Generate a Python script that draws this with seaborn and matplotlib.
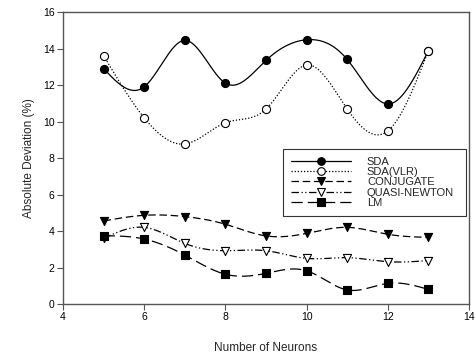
import numpy as np
import matplotlib
matplotlib.use("Agg")
import matplotlib.pyplot as plt
import seaborn as sns

neurons = [5, 6, 7, 8, 9, 10, 11, 12, 13]
sda = [12.9, 11.9, 14.45, 12.1, 13.35, 14.48, 13.4, 10.96, 13.88]
sda_vlr = [13.6, 10.2, 8.77, 9.93, 10.68, 13.1, 10.68, 9.48, 13.88]
conjugate = [4.55, 4.86, 4.79, 4.37, 3.73, 3.87, 4.2, 3.82, 3.65]
quasi_newton = [3.6, 4.2, 3.32, 2.92, 2.92, 2.5, 2.54, 2.32, 2.38]
lm = [3.74, 3.56, 2.68, 1.63, 1.68, 1.82, 0.77, 1.13, 0.8]

series_names = ["SDA", "SDA(VLR)", "CONJUGATE", "QUASI-NEWTON", "LM"]
series_values = [sda, sda_vlr, conjugate, quasi_newton, lm]

sns.set_theme(style="white")
plt.rcParams['font.family'] = ['Liberation Sans', 'DejaVu Sans']

styles = {
    "SDA": dict(ls="-", marker="o", mfc="black"),
    "SDA(VLR)": dict(ls=(0, (1, 1.5)), marker="o", mfc="white"),
    "CONJUGATE": dict(ls=(0, (6, 3)), marker="v", mfc="black"),
    "QUASI-NEWTON": dict(ls=(0, (6, 2, 1, 2, 1, 2)), marker="v", mfc="white"),
    "LM": dict(ls=(0, (9, 4)), marker="s", mfc="black"),
}


def natural_spline(x, y, n=300):
    x = np.asarray(x, float)
    y = np.asarray(y, float)
    k = len(x)
    h = np.diff(x)
    A = np.zeros((k, k))
    b = np.zeros(k)
    A[0, 0] = A[-1, -1] = 1
    for i in range(1, k - 1):
        A[i, i - 1] = h[i - 1]
        A[i, i] = 2 * (h[i - 1] + h[i])
        A[i, i + 1] = h[i]
        b[i] = 3 * ((y[i + 1] - y[i]) / h[i] - (y[i] - y[i - 1]) / h[i - 1])
    c = np.linalg.solve(A, b)
    xs = np.linspace(x[0], x[-1], n)
    idx = np.clip(np.searchsorted(x, xs) - 1, 0, k - 2)
    bb = (y[1:] - y[:-1]) / h - h * (2 * c[:-1] + c[1:]) / 3
    d = (c[1:] - c[:-1]) / (3 * h)
    dx = xs - x[idx]
    ys = y[idx] + bb[idx] * dx + c[idx] * dx ** 2 + d[idx] * dx ** 3
    return xs, ys


fig = plt.figure(figsize=(4.76, 3.53), dpi=100)
ax = fig.add_axes([0.1324, 0.1388, 0.8529, 0.8272])

handles = []
for name, vals in zip(series_names, series_values):
    st = styles[name]
    xs, ys = natural_spline(neurons, vals)
    ax.plot(xs, ys, color="black", lw=0.9, ls=st["ls"])
    sns.scatterplot(x=neurons, y=vals, marker=st["marker"], s=34,
                    facecolor=st["mfc"], edgecolor="black", linewidth=0.8,
                    ax=ax, zorder=3, legend=False)
    h, = ax.plot([], [], color="black", lw=0.9, ls=st["ls"], marker=st["marker"],
                 mfc=st["mfc"], mec="black", ms=5.5, mew=0.8, label=name)
    handles.append(h)

ax.set_xlim(4, 14)
ax.set_ylim(0, 16)
ax.set_xticks([4, 6, 8, 10, 12, 14])
ax.set_yticks([0, 2, 4, 6, 8, 10, 12, 14, 16])
for sp in ax.spines.values():
    sp.set_color("#555555")
    sp.set_linewidth(1.0)
ax.tick_params(axis="both", which="both", direction="out", length=4, width=0.8,
               color="#555555", labelsize=7.5, labelcolor="black",
               bottom=True, left=True, top=False, right=False, pad=2)
ax.set_xlabel("Number of Neurons", fontsize=8.5, labelpad=14)
ax.set_ylabel("Absolute Deviation (%)", fontsize=8.5, labelpad=6)

leg = ax.legend(handles=handles, loc="lower left",
                bbox_to_anchor=(0.542, 0.301, 0.451, 0.24), mode="expand",
                fontsize=8, handlelength=5.4, handletextpad=1.4,
                labelspacing=0.02, borderpad=0.75, frameon=True, fancybox=False,
                borderaxespad=0)
leg.get_frame().set_edgecolor("black")
leg.get_frame().set_linewidth(0.8)

fig.savefig("out.png", dpi=100)
